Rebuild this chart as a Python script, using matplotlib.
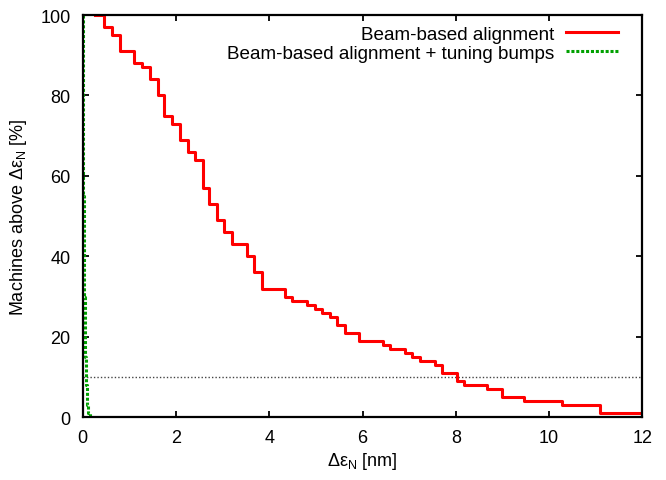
import matplotlib
matplotlib.use("Agg")
import matplotlib.pyplot as plt

plt.rcParams['font.family'] = ['Liberation Sans', 'DejaVu Sans']
plt.rcParams['mathtext.fontset'] = 'custom'
plt.rcParams['mathtext.rm'] = 'Liberation Sans'
plt.rcParams['mathtext.it'] = 'Liberation Sans:italic'

# Beam-based alignment (step curve): drop positions and values
bba_x = [0.27, 0.46, 0.64, 0.81, 1.11, 1.27, 1.45, 1.61, 1.75, 1.92, 2.08, 2.25,
         2.41, 2.58, 2.72, 2.88, 3.04, 3.20, 3.52, 3.68, 3.84, 4.33, 4.49, 4.82,
         4.98, 5.14, 5.31, 5.46, 5.63, 5.93, 6.44, 6.59, 6.91, 7.07, 7.23, 7.55,
         7.71, 8.02, 8.18, 8.66, 9.00, 9.47, 10.28, 11.09, 12.0]
bba_y = [100, 97, 95, 91, 88, 87, 84, 80, 75, 73, 69, 66,
         64, 57, 53, 49, 46, 43, 40, 36, 32, 30, 29, 28,
         27, 26, 25, 23, 21, 19, 18, 17, 16, 15, 14, 13,
         11, 9, 8, 7, 5, 4, 3, 1, 1]

# Beam-based alignment + tuning bumps
bump_x = [0.0, 0.005, 0.01, 0.02, 0.035, 0.055, 0.075, 0.10, 0.12, 0.15]
bump_y = [100, 90, 75, 55, 30, 15, 8, 3, 1, 0]

threshold = 10
xticks = [0, 2, 4, 6, 8, 10, 12]
yticks = [0, 20, 40, 60, 80, 100]

fig = plt.figure(figsize=(6.66, 4.81), dpi=100)
ax = fig.add_axes([0.1239, 0.1304, 0.8408, 0.8363])

ax.axhline(threshold, color='#444444', lw=1.0, linestyle=(0, (1, 1.5)))
ax.plot(bba_x, bba_y, drawstyle='steps-post', color='#ff0000', lw=2.2,
        label='Beam-based alignment')
ax.plot(bump_x, bump_y, drawstyle='steps-post', color='#00a000', lw=2.2,
        linestyle=(0, (1.0, 0.6)), label='Beam-based alignment + tuning bumps')

ax.set_xlim(0, 12)
ax.set_ylim(0, 100)
ax.set_xticks(xticks)
ax.set_yticks(yticks)
ax.tick_params(direction='in', length=4.5, width=1.3, top=True, right=True,
               labelsize=13, pad=8.5)
for s in ax.spines.values():
    s.set_linewidth(1.6)

ax.set_xlabel(r'Δε$_{\mathrm{N}}$ [nm]', fontsize=13, labelpad=3)
ax.set_ylabel(r'Machines above Δε$_{\mathrm{N}}$ [%]', fontsize=13, labelpad=8)

leg = ax.legend(loc='upper right', bbox_to_anchor=(0.983, 1.012), frameon=False,
                markerfirst=False, fontsize=13.6, handlelength=2.75,
                handletextpad=0.6, labelspacing=0.1, borderpad=0.3)

fig.savefig('out.png', dpi=100)
